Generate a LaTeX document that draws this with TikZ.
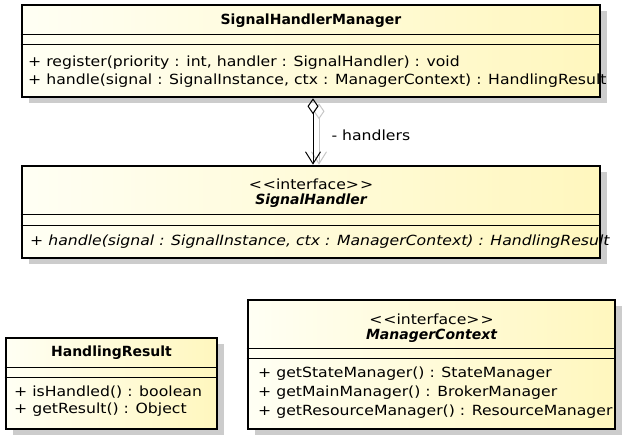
\documentclass[tikz,border=0pt]{standalone}
\usepackage{fontspec}
\setmainfont{DejaVu Sans}[UprightFeatures={FakeStretch=1.12},ItalicFeatures={FakeStretch=1.12}]
\usetikzlibrary{arrows.meta,shadows}
\definecolor{umlleft}{HTML}{FFFFF4}
\definecolor{umlright}{HTML}{FFF7BE}
\begin{document}
\begin{tikzpicture}[x=1pt,y=-1pt,
  cls/.style={draw,line width=2.6pt,left color=umlleft,right color=umlright,inner sep=0pt,
    drop shadow={shadow xshift=7pt,shadow yshift=-6pt,fill=black!20,opacity=1}},
  sep/.style={line width=0.9pt},
  txt/.style={inner sep=0pt,font=\fontsize{14}{16}\selectfont},
  mth/.style={txt,anchor=west},
  ttl/.style={txt,font=\fontsize{14}{16}\selectfont\bfseries},
  ittl/.style={txt,font=\fontsize{14}{16}\selectfont\bfseries\itshape},
  agg/.style={line width=1pt,{Diamond[open,length=16pt,width=11pt]}-{Straight Barb[length=12pt,width=15pt]}}]
  \useasboundingbox (0,0) rectangle (623,435);
  \node[cls,minimum width=578pt,minimum height=92pt] (mgr) at (311,51) {};
  \node[cls,minimum width=578pt,minimum height=92pt] (hdl) at (311,212) {};
  \node[cls,minimum width=211pt,minimum height=91pt] (res) at (111.5,383.5) {};
  \node[cls,minimum width=367pt,minimum height=129pt] (ctx) at (431.5,364.5) {};
  \foreach \b/\y in {mgr/34,mgr/44,hdl/214,hdl/225,res/367,res/377,ctx/348,ctx/358}
    \draw[sep] (\b.west |- 0,\y) -- (\b.east |- 0,\y);
  % SignalHandlerManager
  \node[ttl] (mgr-n) at (311,21) {SignalHandlerManager};
  \node[mth] (mgr-m1) at (28,63) {+ register(priority : int, handler : SignalHandler) : void};
  \node[mth] (mgr-m2) at (28,81) {+ handle(signal : SignalInstance, ctx : ManagerContext) : HandlingResult};
  % SignalHandler
  \node[txt] (hdl-s) at (311,184) {<\kern1pt<interface>\kern1pt>};
  \node[ittl] (hdl-n) at (311,201) {SignalHandler};
  \node[mth,font=\fontsize{14}{16}\selectfont\itshape] (hdl-m) at (30,242) {+ handle(signal : SignalInstance, ctx : ManagerContext) : HandlingResult};
  % HandlingResult
  \node[ttl] (res-n) at (111.5,353) {HandlingResult};
  \node[mth] (res-m1) at (14,392) {+ isHandled() : boolean};
  \node[mth] (res-m2) at (14,410) {+ getResult() : Object};
  % ManagerContext
  \node[txt] (ctx-s) at (431.5,319) {<\kern1pt<interface>\kern1pt>};
  \node[ittl] (ctx-n) at (431.5,336) {ManagerContext};
  \node[mth] (ctx-m1) at (258,374) {+ getStateManager() : StateManager};
  \node[mth] (ctx-m2) at (258,393) {+ getMainManager() : BrokerManager};
  \node[mth] (ctx-m3) at (258,412) {+ getResourceManager() : ResourceManager};
  % handlers
  \draw[agg,black!22] ([xshift=8pt,yshift=-5pt]mgr.south) -- ([xshift=8pt]hdl.north);
  \draw[agg] ([xshift=2pt]mgr.south) -- ([xshift=2pt]hdl.north) node[pos=0.55,anchor=west,txt,xshift=18pt] (role) {- handlers};
\end{tikzpicture}
\end{document}
